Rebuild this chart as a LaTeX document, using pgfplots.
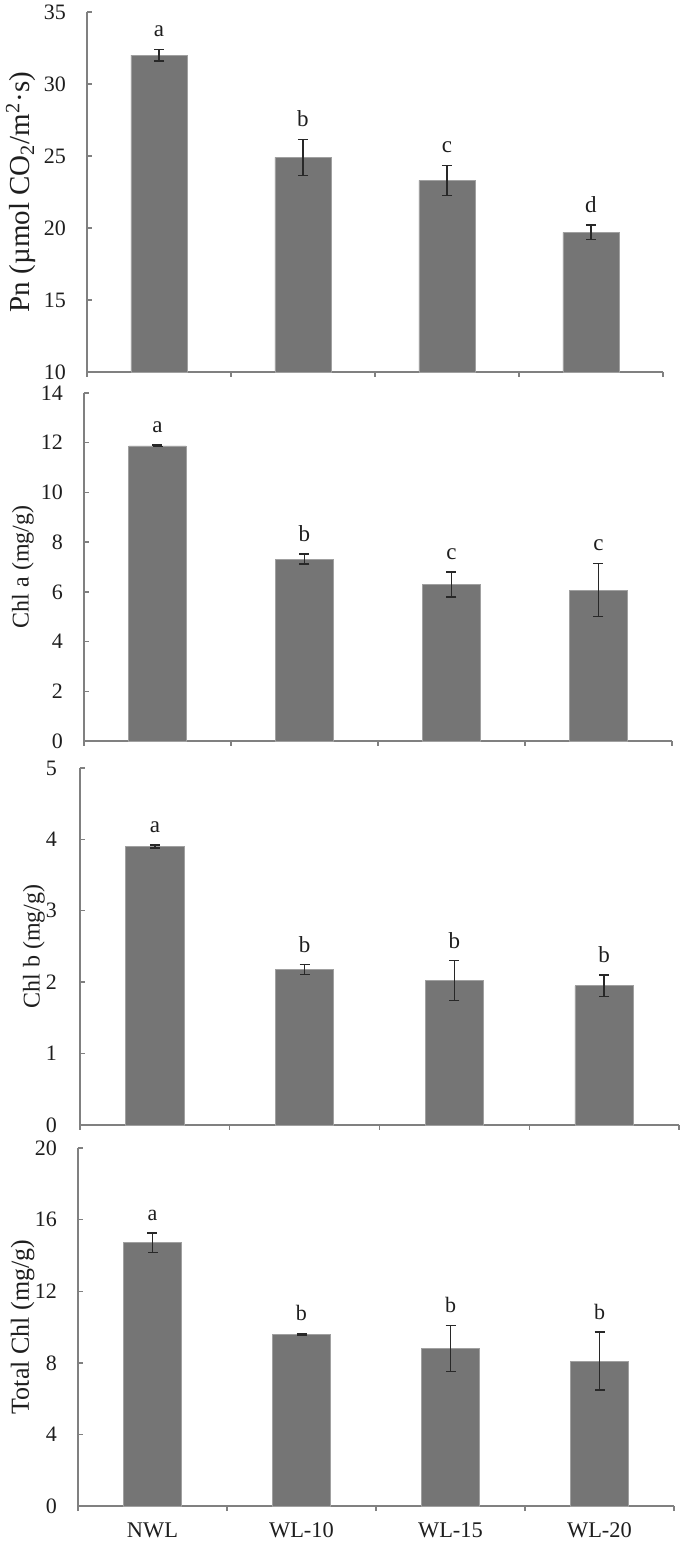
\documentclass[border=0pt]{standalone}
\usepackage{fontspec}
\setmainfont{Liberation Serif}
\usepackage{pgfplots}
\pgfplotsset{compat=1.18}
\usepackage{pgfplotstable}
\definecolor{barfill}{RGB}{117,117,117}
\definecolor{barborder}{RGB}{160,160,160}
\definecolor{axisgray}{RGB}{128,128,128}
\definecolor{errcol}{RGB}{40,40,40}
\definecolor{txt}{RGB}{30,30,30}

\pgfplotstableread{
x y e lab
0 32.0 0.40 a
1 24.9 1.25 b
2 23.3 1.05 c
3 19.7 0.50 d
}\dataPn
\pgfplotstableread{
x y e lab
0 11.87 0.03 a
1 7.32 0.20 b
2 6.30 0.50 c
3 6.07 1.07 c
}\dataChla
\pgfplotstableread{
x y e lab
0 3.90 0.02 a
1 2.175 0.07 b
2 2.02 0.28 b
3 1.95 0.15 b
}\dataChlb
\pgfplotstableread{
x y e lab
0 14.70 0.55 a
1 9.60 0.05 b
2 8.80 1.28 b
3 8.10 1.62 b
}\dataTot

\pgfplotsset{
  panel/.style={
    scale only axis, anchor=south west,
    xmin=-0.5, xmax=3.5,
    axis x line*=bottom, axis y line*=left,
    axis line style={draw=axisgray, line width=0.7pt, -},
    tick style={draw=axisgray, line width=0.7pt},
    major tick length=2.5pt,
    tick align=inside,
    xtick={-0.5,0.5,1.5,2.5,3.5},
    xticklabels={},
    xtick style={yshift=-2.5pt},
    /pgf/number format/assume math mode=true,
    yticklabel style={font=\fontsize{11}{13}\selectfont, text=txt},
    ylabel style={rotate=0, font=\fontsize{12}{14}\selectfont, text=txt, anchor=center},
    clip=false,
  },
  bars/.style={ybar, bar width=0.39, fill=barfill, draw=barborder, line width=0.4pt,
    error bars/.cd, y dir=both, y explicit,
    error bar style={draw=errcol, line width=0.7pt},
    error mark options={draw=errcol, rotate=90, mark size=2.5pt, line width=0.7pt}},
  lets/.style={draw=none, mark=none, nodes near coords, point meta=explicit symbolic,
    nodes near coords style={anchor=south, inner sep=0pt, yshift=6pt, text=txt, font=\fontsize{11.5}{13}\selectfont}},
}

\begin{document}
\begin{tikzpicture}
\path[use as bounding box] (0,0) rectangle (350pt,773.5pt);

% Panel 1
\begin{axis}[panel, at={(43.5pt,587.5pt)}, width=288pt, height=180pt,
  ymin=10, ymax=35, ytick={10,15,...,35},
  yticklabel style={xshift=-7pt},
  ylabel={Pn (µmol CO\textsubscript{2}/m\textsuperscript{2}·s)},
  ylabel style={at={(axis description cs:-0.1146,0.5)}, font=\fontsize{14.5}{16}\selectfont}]
\addplot[bars] table[x=x, y=y, y error=e] {\dataPn};
\addplot[lets] table[x=x, y expr=\thisrow{y}+\thisrow{e}, meta=lab] {\dataPn};
\end{axis}

% Panel 2
\begin{axis}[panel, at={(42pt,403pt)}, width=294pt, height=174pt,
  ymin=0, ymax=14, ytick={0,2,...,14},
  yticklabel style={xshift=-7pt},
  ylabel={Chl a (mg/g)},
  ylabel style={at={(axis description cs:-0.104,0.5)}}]
\addplot[bars] table[x=x, y=y, y error=e] {\dataChla};
\addplot[lets] table[x=x, y expr=\thisrow{y}+\thisrow{e}, meta=lab] {\dataChla};
\end{axis}

% Panel 3
\begin{axis}[panel, at={(40pt,211pt)}, width=299.5pt, height=178.5pt,
  ymin=0, ymax=5, ytick={0,1,...,5},
  yticklabel style={xshift=-8pt},
  ylabel={Chl b (mg/g)},
  ylabel style={at={(axis description cs:-0.077,0.5)}}]
\addplot[bars] table[x=x, y=y, y error=e] {\dataChlb};
\addplot[lets] table[x=x, y expr=\thisrow{y}+\thisrow{e}, meta=lab] {\dataChlb};
\end{axis}

% Panel 4
\begin{axis}[panel, at={(39pt,20.5pt)}, width=298pt, height=179pt,
  ymin=0, ymax=20, ytick={0,4,...,20},
  yticklabel style={xshift=-7pt},
  extra x ticks={0,1,2,3},
  extra x tick labels={NWL,WL-10,WL-15,WL-20},
  extra x tick style={major tick length=0pt, xticklabel style={yshift=-5pt, font=\fontsize{11.2}{13}\selectfont, text=txt}},
  ylabel={Total Chl (mg/g)},
  ylabel style={at={(axis description cs:-0.093,0.5)}, font=\fontsize{13}{15}\selectfont},
  lets/.append style={nodes near coords style={font=\fontsize{11}{13}\selectfont}}]
\addplot[bars] table[x=x, y=y, y error=e] {\dataTot};
\addplot[lets] table[x=x, y expr=\thisrow{y}+\thisrow{e}, meta=lab] {\dataTot};
\end{axis}
\end{tikzpicture}
\end{document}
